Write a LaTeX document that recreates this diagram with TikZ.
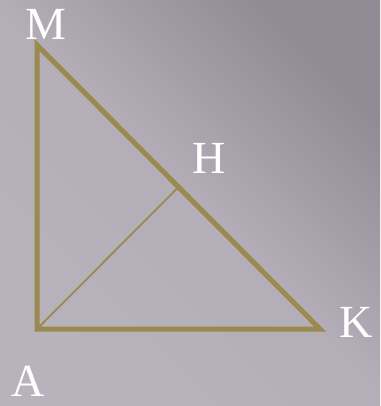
\documentclass[tikz,border=0pt]{standalone}
\usepackage{fontspec}
\setmainfont{Liberation Serif}
\begin{document}
\begin{tikzpicture}[x=1pt,y=-1pt,
  edge/.style={draw=olivec, line width=5pt, line join=miter},
  thin/.style={draw=olivec, line width=1.8pt},
  lbl/.style={text=white, font=\fontsize{46}{46}\selectfont, inner sep=0pt}]
\definecolor{olivec}{HTML}{9A8A4E}
\definecolor{bgl}{HTML}{B7B2BB}
\definecolor{bgd}{HTML}{8F8A93}
\useasboundingbox (0,0) rectangle (380,406);
\shade[left color=bgl, right color=bgd, middle color=bgl!90!bgd, shading angle=135] (0,0) rectangle (380,406);
\coordinate (M) at (37,45);
\coordinate (A) at (37,329);
\coordinate (K) at (320,329);
\coordinate (H) at (178.5,187);
\draw[edge] (M) -- (A) -- (K) -- cycle;
\draw[thin] (A) -- (H);
\node[lbl] (lM) at (46,24) {M};
\node[lbl] (lH) at (209,158) {H};
\node[lbl] (lK) at (356,322) {K};
\node[lbl] (lA) at (28,381) {A};
\end{tikzpicture}
\end{document}
